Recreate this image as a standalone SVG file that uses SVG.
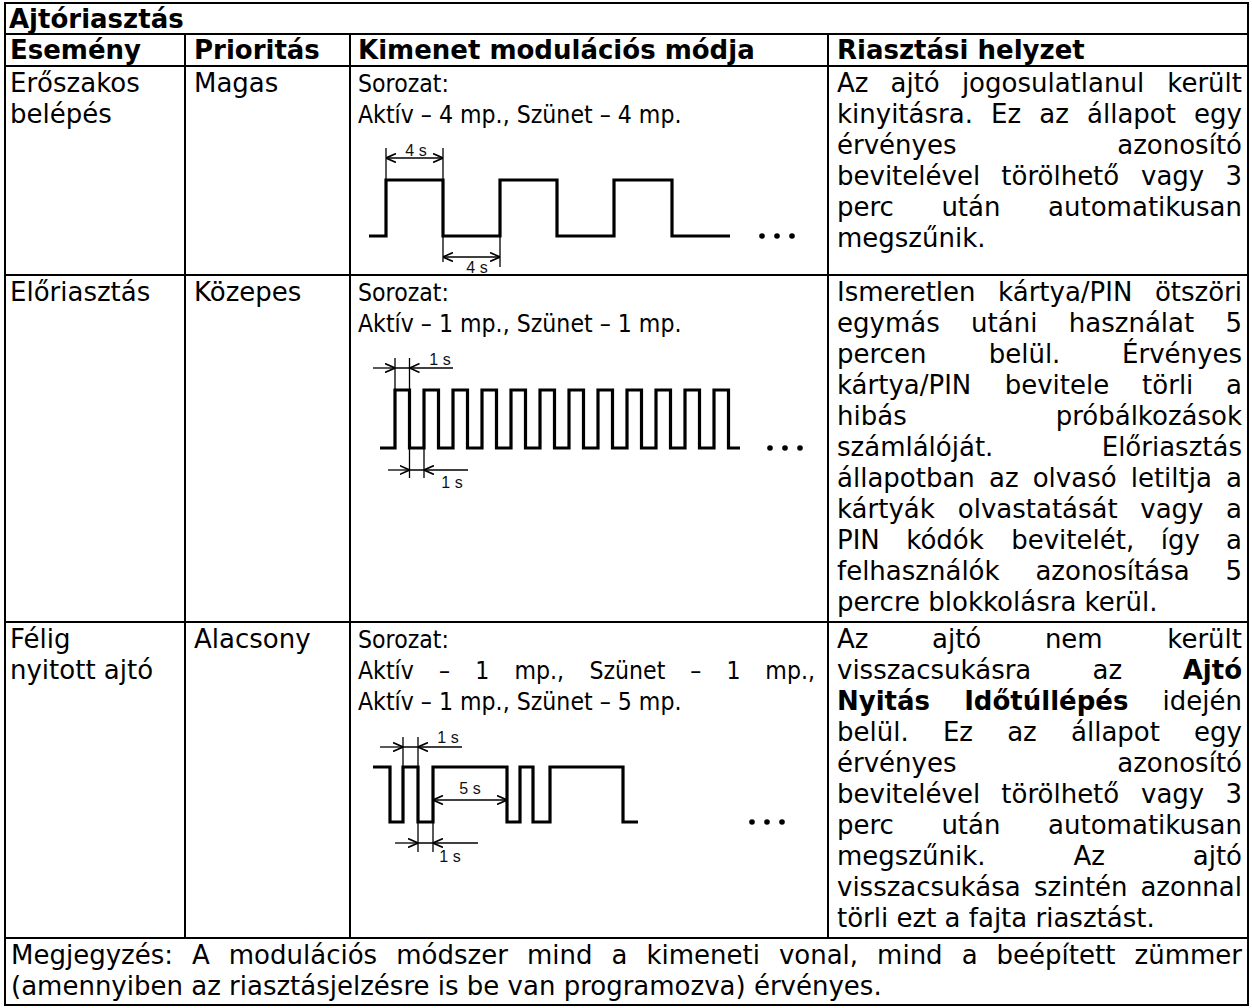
<svg xmlns="http://www.w3.org/2000/svg" width="1252" height="1008" viewBox="0 0 1252 1008">
<defs>
<style>
.t{font-family:"DejaVu Sans",Verdana,sans-serif;font-size:26px;fill:#000}
.s{font-size:25px}
.b{font-weight:bold}
.e{text-anchor:end}
.lb{font-family:"Liberation Sans",Arial,sans-serif;font-size:16px;fill:#111;text-anchor:middle}
.g{stroke:#000;stroke-width:2;fill:none}
.w{fill:none;stroke:#000;stroke-width:3.2;stroke-linejoin:miter}
.d{fill:none;stroke:#000;stroke-width:1.3}
.da{fill:none;stroke:#000;stroke-width:1.3;marker-end:url(#ah)}
.dd{fill:none;stroke:#000;stroke-width:1.3;marker-start:url(#ah);marker-end:url(#ah)}
</style>
<marker id="ah" viewBox="0 0 10 10" refX="10" refY="5" markerWidth="10" markerHeight="10" markerUnits="userSpaceOnUse" orient="auto-start-reverse"><path d="M0,0.5 L10,5 L0,9.5" fill="none" stroke="#000" stroke-width="1.6"/></marker>
</defs>
<rect width="1252" height="1008" fill="#fff"/>
<g id="grid" class="g">
<rect x="5" y="3" width="1243" height="1002"/>
<path d="M5,34H1248 M5,66H1248 M5,275H1248 M5,622H1248 M5,938H1248 M185,34V938 M350,34V938 M828,34V938"/>
</g>
<g id="header">
<text class="t b" x="9" y="28">Ajtóriasztás</text>
<text class="t b" x="10" y="59">Esemény</text>
<text class="t b" x="194" y="59">Prioritás</text>
<text class="t b" x="358" y="59">Kimenet modulációs módja</text>
<text class="t b" x="837" y="59">Riasztási helyzet</text>
</g>
<g id="row1">
<text class="t" x="10" y="92">Erőszakos</text>
<text class="t" x="10" y="123">belépés</text>
<text class="t" x="194" y="92">Magas</text>
<g transform="matrix(0.885 0 0 1 41.17 0)">
<text class="t s" x="358" y="92">Sorozat:</text>
<text class="t s" x="358" y="123">Aktív – 4 mp., Szünet – 4 mp.</text>
</g>
<g id="wave1">
<path class="w" d="M369,236H386V180H443V236H500V180H557V236H614V180H672V236H730"/>
<path class="d" d="M386,148V180 M443,148V180 M443,236V262 M500,236V267"/>
<path class="dd" d="M386,158H443"/>
<path class="dd" d="M443,257H500"/>
<text class="lb" x="416" y="156">4 s</text>
<text class="lb" x="477" y="273">4 s</text>
<circle cx="762" cy="236" r="2.8"/><circle cx="777" cy="236" r="2.8"/><circle cx="792" cy="236" r="2.8"/>
</g>
<text class="t" y="92"><tspan x="837">Az</tspan> <tspan x="890.5">ajtó</tspan> <tspan x="961.9">jogosulatlanul</tspan> <tspan x="1242" class="e">került</tspan></text>
<text class="t" y="123"><tspan x="837">kinyitásra.</tspan> <tspan x="991.1">Ez</tspan> <tspan x="1039.3">az</tspan> <tspan x="1087">állapot</tspan> <tspan x="1242" class="e">egy</tspan></text>
<text class="t" y="154"><tspan x="837">érvényes</tspan> <tspan x="1242" class="e">azonosító</tspan></text>
<text class="t" y="185"><tspan x="837">bevitelével</tspan> <tspan x="1001.3">törölhető</tspan> <tspan x="1141">vagy</tspan> <tspan x="1242" class="e">3</tspan></text>
<text class="t" y="216"><tspan x="837">perc</tspan> <tspan x="941.4">után</tspan> <tspan x="1242" class="e">automatikusan</tspan></text>
<text class="t" x="837" y="247">megszűnik.</text>
</g>
<g id="row2">
<text class="t" x="10" y="301">Előriasztás</text>
<text class="t" x="194" y="301">Közepes</text>
<g transform="matrix(0.885 0 0 1 41.17 0)">
<text class="t s" x="358" y="301">Sorozat:</text>
<text class="t s" x="358" y="332">Aktív – 1 mp., Szünet – 1 mp.</text>
</g>
<g id="wave2">
<path class="w" d="M380,448H395V390H409.5V448H424V390H438.5V448H453V390H467.5V448H482V390H496.5V448H511V390H525.5V448H540V390H554.5V448H569V390H583.5V448H598V390H612.5V448H627V390H641.5V448H656V390H670.5V448H685V390H699.5V448H714V390H728.5V448H740"/>
<path class="d" d="M395,358V390 M409.5,358V390 M409.5,448V478 M424,448V478 M395,368H409.5 M409.5,470H424"/>
<path class="da" d="M373,368H395"/><path class="da" d="M453,368H409.5"/>
<path class="da" d="M388,470H409.5"/><path class="da" d="M468,470H424"/>
<text class="lb" x="440" y="365">1 s</text>
<text class="lb" x="452" y="488">1 s</text>
<circle cx="770" cy="448" r="2.8"/><circle cx="785" cy="448" r="2.8"/><circle cx="800" cy="448" r="2.8"/>
</g>
<text class="t" y="301"><tspan x="837">Ismeretlen</tspan> <tspan x="998.1">kártya/PIN</tspan> <tspan x="1242" class="e">ötszöri</tspan></text>
<text class="t" y="332"><tspan x="837">egymás</tspan> <tspan x="971.1">utáni</tspan> <tspan x="1068.8">használat</tspan> <tspan x="1242" class="e">5</tspan></text>
<text class="t" y="363"><tspan x="837">percen</tspan> <tspan x="988.7">belül.</tspan> <tspan x="1242" class="e">Érvényes</tspan></text>
<text class="t" y="394"><tspan x="837">kártya/PIN</tspan> <tspan x="1004.7">bevitele</tspan> <tspan x="1142.1">törli</tspan> <tspan x="1242" class="e">a</tspan></text>
<text class="t" y="425"><tspan x="837">hibás</tspan> <tspan x="1242" class="e">próbálkozások</tspan></text>
<text class="t" y="456"><tspan x="837">számlálóját.</tspan> <tspan x="1242" class="e">Előriasztás</tspan></text>
<text class="t" y="487"><tspan x="837">állapotban</tspan> <tspan x="989">az</tspan> <tspan x="1032.7">olvasó</tspan> <tspan x="1130.7">letiltja</tspan> <tspan x="1242" class="e">a</tspan></text>
<text class="t" y="518"><tspan x="837">kártyák</tspan> <tspan x="957.8">olvastatását</tspan> <tspan x="1140.3">vagy</tspan> <tspan x="1242" class="e">a</tspan></text>
<text class="t" y="549"><tspan x="837">PIN</tspan> <tspan x="906.3">kódók</tspan> <tspan x="1011.2">bevitelét,</tspan> <tspan x="1160.7">így</tspan> <tspan x="1242" class="e">a</tspan></text>
<text class="t" y="580"><tspan x="837">felhasználók</tspan> <tspan x="1035.4">azonosítása</tspan> <tspan x="1242" class="e">5</tspan></text>
<text class="t" x="837" y="611">percre blokkolásra kerül.</text>
</g>
<g id="row3">
<text class="t" x="10" y="648">Félig</text>
<text class="t" x="10" y="679">nyitott ajtó</text>
<text class="t" x="194" y="648">Alacsony</text>
<g transform="matrix(0.885 0 0 1 41.17 0)">
<text class="t s" x="358" y="648">Sorozat:</text>
<text class="t s" y="679"><tspan x="358">Aktív</tspan> <tspan x="449.5">–</tspan> <tspan x="490.4">1</tspan> <tspan x="534.7">mp.,</tspan> <tspan x="619.5">Szünet</tspan> <tspan x="733.5">–</tspan> <tspan x="774.4">1</tspan> <tspan x="874.4" class="e">mp.,</tspan></text>
<text class="t s" x="358" y="710">Aktív – 1 mp., Szünet – 5 mp.</text>
</g>
<g id="wave3">
<path class="w" d="M373,767H390V822H403V767H418V822H433V767H507V822H520V767H533V822H550V767H623V822H638"/>
<path class="d" d="M403,737V767 M418,737V767 M418,822V852 M433,822V852 M403,747H418 M418,843H433"/>
<path class="da" d="M380,747H403"/><path class="da" d="M462,747H418"/>
<path class="da" d="M395,843H418"/><path class="da" d="M478,843H433"/>
<path class="dd" d="M433,800H507"/>
<text class="lb" x="448" y="743">1 s</text>
<text class="lb" x="470" y="794">5 s</text>
<text class="lb" x="450" y="862">1 s</text>
<circle cx="752" cy="822" r="2.8"/><circle cx="767" cy="822" r="2.8"/><circle cx="782" cy="822" r="2.8"/>
</g>
<text class="t" y="648"><tspan x="837">Az</tspan> <tspan x="932">ajtó</tspan> <tspan x="1044.9">nem</tspan> <tspan x="1242" class="e">került</tspan></text>
<text class="t" y="679"><tspan x="837">visszacsukásra</tspan> <tspan x="1092.5">az</tspan> <tspan x="1242" class="e b">Ajtó</tspan></text>
<text class="t" y="710"><tspan x="837" class="b">Nyitás</tspan> <tspan x="964.2" class="b">Időtúllépés</tspan> <tspan x="1242" class="e">idején</tspan></text>
<text class="t" y="741"><tspan x="837">belül.</tspan> <tspan x="942.9">Ez</tspan> <tspan x="1007.2">az</tspan> <tspan x="1071">állapot</tspan> <tspan x="1242" class="e">egy</tspan></text>
<text class="t" y="772"><tspan x="837">érvényes</tspan> <tspan x="1242" class="e">azonosító</tspan></text>
<text class="t" y="803"><tspan x="837">bevitelével</tspan> <tspan x="1001.3">törölhető</tspan> <tspan x="1141">vagy</tspan> <tspan x="1242" class="e">3</tspan></text>
<text class="t" y="834"><tspan x="837">perc</tspan> <tspan x="941.4">után</tspan> <tspan x="1242" class="e">automatikusan</tspan></text>
<text class="t" y="865"><tspan x="837">megszűnik.</tspan> <tspan x="1073.4">Az</tspan> <tspan x="1242" class="e">ajtó</tspan></text>
<text class="t" y="896"><tspan x="837">visszacsukása</tspan> <tspan x="1034">szintén</tspan> <tspan x="1242" class="e">azonnal</tspan></text>
<text class="t" x="837" y="927">törli ezt a fajta riasztást.</text>
</g>
<g id="note">
<text class="t" y="964"><tspan x="11">Megjegyzés:</tspan> <tspan x="192">A</tspan> <tspan x="228.8">modulációs</tspan> <tspan x="396.3">módszer</tspan> <tspan x="526.9">mind</tspan> <tspan x="611.4">a</tspan> <tspan x="646.4">kimeneti</tspan> <tspan x="778.9">vonal,</tspan> <tspan x="877.1">mind</tspan> <tspan x="961.7">a</tspan> <tspan x="996.6">beépített</tspan> <tspan x="1242" class="e">zümmer</tspan></text>
<text class="t" x="11" y="995">(amennyiben az riasztásjelzésre is be van programozva) érvényes.</text>
</g>
</svg>
